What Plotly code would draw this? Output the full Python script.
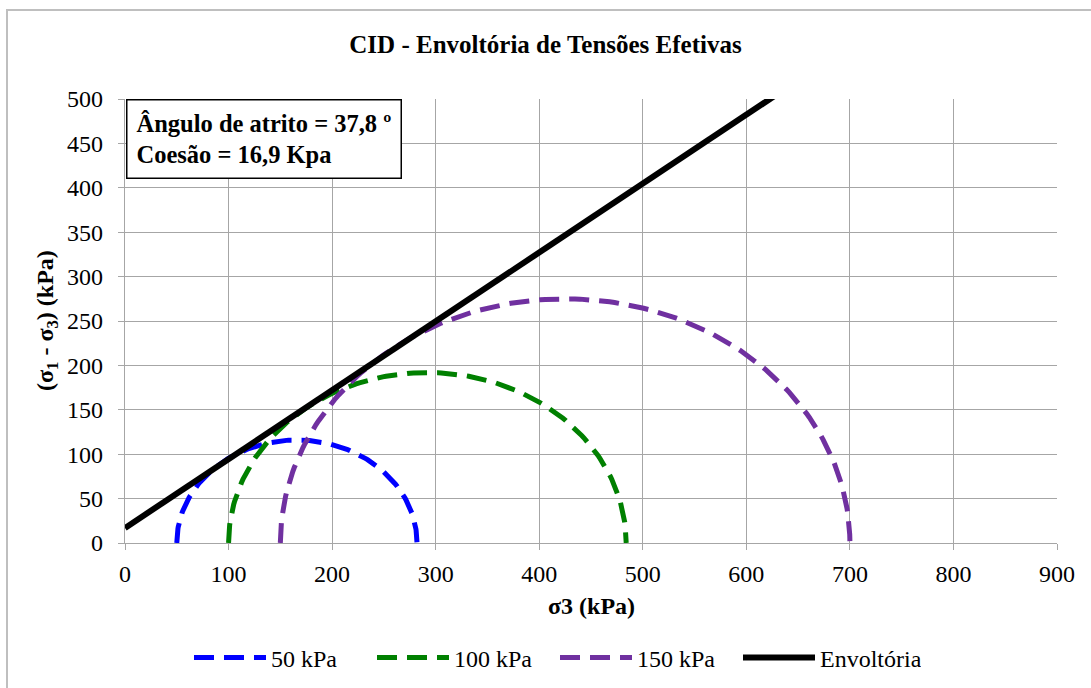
import numpy as np
import plotly.graph_objects as go

# ---- data ----
series_names = ["50 kPa", "100 kPa", "150 kPa"]
sigma3 = [50, 100, 150]          # confining stress (kPa)
sigma1 = [282, 484, 700]         # major principal stress at failure (kPa)
colors = ["#0000FF", "#008000", "#7030A0"]
phi_deg = 37.8                    # friction angle
coesao = 16.9                     # cohesion (kPa)
env_x = [0, 700]
x_ticks = [0, 100, 200, 300, 400, 500, 600, 700, 800, 900]
y_ticks = [0, 50, 100, 150, 200, 250, 300, 350, 400, 450, 500]

FONT = "Liberation Serif"

fig = go.Figure()

for name, s3, s1, c in zip(series_names, sigma3, sigma1, colors):
    center = (s1 + s3) / 2.0
    radius = (s1 - s3) / 2.0
    t = np.linspace(np.pi, 0, 181)
    fig.add_trace(go.Scatter(
        x=center + radius * np.cos(t),
        y=radius * np.sin(t),
        mode="lines", name=name,
        line=dict(color=c, width=5, dash="20px,10px"),
    ))

tanphi = np.tan(np.radians(phi_deg))
fig.add_trace(go.Scatter(
    x=env_x, y=[coesao + tanphi * x for x in env_x],
    mode="lines", name="Envoltória",
    line=dict(color="black", width=6),
))

axis_common = dict(
    showgrid=True, gridcolor="#A6A6A6", gridwidth=1.3,
    showline=True, linecolor="#A6A6A6", linewidth=1.3,
    ticks="outside", ticklen=6, tickcolor="#A6A6A6", tickwidth=1.3,
    tickfont=dict(family=FONT, size=24, color="black"),
    zeroline=False,
)

fig.update_xaxes(range=[0, 900], tickvals=x_ticks, ticklabelstandoff=3, **axis_common)
fig.update_yaxes(range=[0, 500], tickvals=y_ticks, ticklabelstandoff=10, **axis_common)

fig.update_layout(
    width=1091, height=688,
    margin=dict(l=125, r=34, t=99, b=145, autoexpand=False),
    paper_bgcolor="white", plot_bgcolor="white",
    font=dict(family=FONT, color="black"),
    title=dict(text="<b>CID - Envoltória de Tensões Efetivas</b>",
               font=dict(family=FONT, size=25, color="black"),
               x=0.5, xref="container", xanchor="center",
               y=1 - 44 / 688, yref="container", yanchor="middle"),
    showlegend=True,
    legend=dict(orientation="h", x=0.5 - 36 / 932, xanchor="center",
                y=(543 - 658) / 444, yanchor="middle",
                font=dict(family=FONT, size=24, color="black"),
                itemwidth=72, entrywidth=96, entrywidthmode="pixels",
                traceorder="normal"),
    shapes=[
        dict(type="rect", xref="paper", yref="paper",
             x0=(7 - 125) / 932, x1=1.2, y0=-0.6, y1=(543 - 10) / 444,
             line=dict(color="#BFBFBF", width=2), fillcolor="rgba(0,0,0,0)", layer="below"),
    ],
    annotations=[
        dict(text="<b>Ângulo de atrito = 37,8 º</b><br><b>Coesão = 16,9 Kpa</b>",
             xref="paper", yref="paper", x=0.001, y=1.0, xanchor="left", yanchor="top",
             align="left", showarrow=False,
             font=dict(family=FONT, size=24.5, color="black"),
             bgcolor="white", bordercolor="black", borderwidth=1.5, borderpad=9),
        dict(text="<b>σ3 (kPa)</b>", xref="paper", yref="paper",
             x=0.5, y=(543 - 606) / 444, xanchor="center", yanchor="middle",
             showarrow=False, font=dict(family=FONT, size=24, color="black")),
        dict(text="<b>(σ<sub>1</sub> - σ<sub>3</sub>) (kPa)</b>", xref="paper", yref="paper",
             x=(47 - 125) / 932, y=0.5, xanchor="center", yanchor="middle", textangle=-90,
             showarrow=False, font=dict(family=FONT, size=24, color="black")),
    ],
)

fig.write_html("out.html")
